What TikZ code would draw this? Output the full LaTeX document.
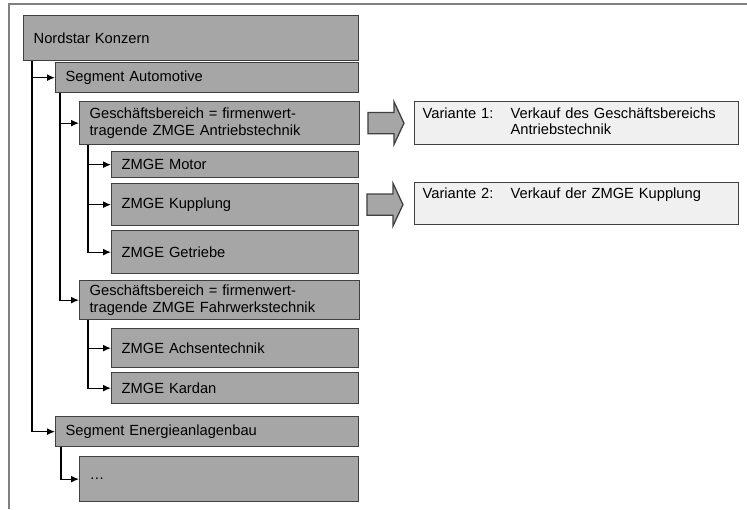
\documentclass[tikz,border=0pt]{standalone}
\usepackage{fontspec}
\setmainfont{Liberation Sans}
\usetikzlibrary{arrows.meta,shapes.arrows}
\definecolor{boxgray}{RGB}{166,166,166}
\definecolor{boxline}{RGB}{64,64,64}
\definecolor{notegray}{RGB}{240,240,240}
\definecolor{framegray}{RGB}{128,128,128}
\tikzstyle{every unit node}=[draw=boxline,fill=boxgray,line width=1.3pt,anchor=north west,inner xsep=10pt,inner ysep=0pt,align=left]

\begin{document}
\begin{tikzpicture}[x=1pt,y=-1pt,font=\fontsize{14.7}{16.5}\selectfont]

  \useasboundingbox (0,0) rectangle (747,509);
  \draw[framegray,line width=1.2pt] (9,509) -- (9,4) -- (747,4);

  \tikzset{unit/.style={every unit node},
           link/.style={line width=1.3pt,-{Latex[length=8pt,width=7pt]}},
           blockarrow/.style={single arrow,draw=boxline,fill=boxgray,line width=1.3pt,
             inner xsep=0pt,inner ysep=10pt,minimum height=36pt,
             single arrow head extend=10.5pt,single arrow tip angle=130,anchor=tail},
           note/.style={draw=boxline,fill=notegray,line width=1.3pt,anchor=north west,
             inner xsep=8pt,inner ysep=0pt,minimum width=324pt,text width=308pt,align=left}}

\node[unit,minimum width=335pt,minimum height=45pt,text width=315pt] (a) at (23,15) {Nordstar Konzern};
\node[unit,minimum width=303pt,minimum height=30pt,text width=283pt] (b) at (55,62) {Segment Automotive};
\node[unit,minimum width=280pt,minimum height=43pt,text width=260pt] (c) at (79,101) {Gesch\"aftsbereich = firmenwert-\\tragende ZMGE Antriebstechnik};
\node[unit,minimum width=247pt,minimum height=26pt,text width=227pt] (d) at (111,151) {ZMGE Motor};
\node[unit,minimum width=247pt,minimum height=42pt,text width=227pt] (e) at (111,183) {ZMGE Kupplung};
\node[unit,minimum width=247pt,minimum height=43pt,text width=227pt] (f) at (111,230) {ZMGE Getriebe};
\node[unit,minimum width=280pt,minimum height=39pt,text width=260pt] (g) at (79,280) {Gesch\"aftsbereich = firmenwert-\\tragende ZMGE Fahrwerkstechnik};
\node[unit,minimum width=247pt,minimum height=39pt,text width=227pt] (h) at (111,328) {ZMGE Achsentechnik};
\node[unit,minimum width=247pt,minimum height=31pt,text width=227pt] (i) at (111,372) {ZMGE Kardan};
\node[unit,minimum width=303pt,minimum height=30pt,text width=283pt] (j) at (55,416) {Segment Energieanlagenbau};
\node[unit,minimum width=279pt,minimum height=45pt,text width=259pt] (k) at (79,456) {\dots};

\draw[link] ([xshift=9pt]a.south west) |- (b.west);
\draw[link] ([xshift=9pt]a.south west) |- (j.west);
\draw[link] ([xshift=5pt]b.south west) |- (c.west);
\draw[link] ([xshift=5pt]b.south west) |- (g.west);
\draw[link] ([xshift=9pt]c.south west) |- (d.west);
\draw[link] ([xshift=9pt]c.south west) |- (e.west);
\draw[link] ([xshift=9pt]c.south west) |- (f.west);
\draw[link] ([xshift=9pt]g.south west) |- (h.west);
\draw[link] ([xshift=9pt]g.south west) |- (i.west);
\draw[link] ([xshift=6pt]j.south west) |- (k.west);

\node[blockarrow] (p1) at ([xshift=7pt]c.east) {};
\node[blockarrow] (p2) at ([xshift=7pt]e.east) {};

\node[note,minimum height=43pt] (q1) at (414,101) {\begin{tabular}{@{}p{88pt}@{}l@{}}Variante 1: & Verkauf des Gesch\"aftsbereichs\\ & Antriebstechnik\end{tabular}};
\node[note,minimum height=42pt] (q2) at (414,182) {\begin{tabular}{@{}p{88pt}@{}l@{}}Variante 2: & Verkauf der ZMGE Kupplung\\ & \end{tabular}};

\end{tikzpicture}
\end{document}
